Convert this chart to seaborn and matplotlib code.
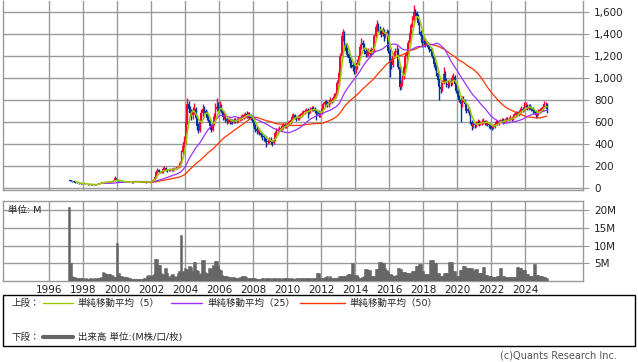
import numpy as np
import pandas as pd
import matplotlib
matplotlib.use("Agg")
import matplotlib.pyplot as plt
import seaborn as sns
from matplotlib.patches import Rectangle
from matplotlib.lines import Line2D

# monthly data, 1997-03 .. 2025-04
first_month = "1997-03-01"
first_open = 70

closes = [
    68, 66, 62, 58, 50, 45, 44, 42, 40, 38,  # 1997
    36, 38, 35, 33, 34, 32, 30, 30, 31, 33, 40, 46,  # 1998
    50, 55, 52, 54, 56, 58, 55, 60, 62, 70, 90, 72,  # 1999
    65, 62, 60, 58, 56, 55, 58, 57, 55, 54, 52, 55,  # 2000
    56, 55, 54, 55, 57, 58, 56, 55, 53, 55, 58, 62,  # 2001
    68, 75, 100, 150, 165, 150, 140, 145, 170, 180, 165, 160,  # 2002
    165, 170, 160, 175, 185, 180, 190, 200, 230, 330, 380, 420,  # 2003
    600, 760, 720, 680, 660, 700, 720, 640, 560, 520, 600, 680,  # 2004
    720, 700, 680, 640, 620, 560, 530, 580, 650, 720, 740, 730,  # 2005
    740, 700, 650, 660, 630, 610, 620, 600, 610, 600, 620, 610,  # 2006
    620, 625, 630, 640, 650, 660, 670, 660, 670, 650, 640, 630,  # 2007
    560, 540, 520, 530, 500, 480, 470, 460, 450, 420, 430, 440,  # 2008
    420, 410, 440, 500, 520, 530, 540, 545, 560, 570, 560, 575,  # 2009
    590, 600, 620, 650, 660, 640, 630, 640, 650, 660, 680, 690,  # 2010
    700, 710, 690, 700, 720, 730, 720, 700, 680, 690, 670, 680,  # 2011
    720, 760, 780, 770, 760, 780, 800, 790, 820, 830, 860, 950,  # 2012
    1050, 1200, 1380, 1420, 1300, 1250, 1220, 1180, 1140, 1120, 1100, 1090,  # 2013
    1110, 1140, 1200, 1280, 1320, 1300, 1250, 1220, 1230, 1240, 1220, 1250,  # 2014
    1260, 1380, 1460, 1480, 1440, 1420, 1400, 1430, 1380, 1400, 1420, 1250,  # 2015
    1140, 1120, 1200, 1220, 1240, 1250, 1100, 920, 950, 1010, 1100, 1200,  # 2016
    1230, 1320, 1410, 1480, 1530, 1600, 1590, 1560, 1500, 1420, 1380, 1320,  # 2017
    1340, 1300, 1320, 1280, 1260, 1250, 1200, 1130, 1100, 1050, 980, 920,  # 2018
    900, 960, 1040, 980, 950, 940, 970, 960, 1000, 1010, 950, 880,  # 2019
    830, 800, 760, 820, 800, 760, 700, 720, 680, 600, 560, 580,  # 2020
    570, 590, 600, 580, 590, 600, 610, 590, 600, 580, 570, 560,  # 2021
    550, 560, 580, 600, 590, 600, 610, 620, 600, 610, 630, 620,  # 2022
    630, 640, 620, 650, 660, 680, 670, 690, 700, 720, 710, 740,  # 2023
    750, 720, 740, 730, 720, 700, 690, 660, 680, 700, 710, 720,  # 2024
    740, 760, 760, 720,  # 2025
]

highs = [
    74, 71, 68, 64, 60, 52, 48, 46, 44, 42,
    40, 41, 39, 37, 36, 36, 34, 32, 33, 36, 43, 50,
    53, 59, 58, 57, 59, 62, 61, 63, 66, 75, 110, 92,
    75, 68, 65, 62, 60, 58, 61, 60, 59, 57, 56, 58,
    59, 58, 57, 57, 60, 61, 60, 58, 57, 58, 61, 66,
    72, 80, 110, 165, 180, 172, 158, 160, 190, 200, 188, 175,
    175, 180, 178, 182, 195, 192, 198, 215, 250, 350, 420, 470,
    640, 818, 790, 750, 720, 740, 770, 740, 660, 590, 630, 720,
    760, 750, 720, 700, 670, 640, 580, 600, 680, 770, 818, 780,
    790, 760, 710, 690, 680, 650, 640, 640, 630, 630, 640, 640,
    640, 645, 650, 660, 670, 680, 690, 700, 690, 690, 670, 660,
    650, 580, 560, 550, 550, 520, 500, 490, 480, 470, 450, 460,
    460, 440, 460, 520, 545, 550, 560, 565, 580, 590, 590, 595,
    610, 620, 640, 670, 680, 675, 655, 660, 670, 680, 700, 710,
    720, 730, 730, 715, 740, 750, 750, 740, 715, 710, 705, 700,
    740, 780, 800, 800, 790, 800, 830, 820, 840, 860, 890, 980,
    1080, 1230, 1400, 1445, 1430, 1320, 1280, 1250, 1200, 1170, 1150, 1130,
    1140, 1170, 1230, 1310, 1360, 1350, 1320, 1270, 1260, 1270, 1260, 1280,
    1290, 1400, 1490, 1527, 1500, 1470, 1450, 1460, 1450, 1420, 1450, 1440,
    1270, 1180, 1230, 1250, 1270, 1300, 1270, 1120, 980, 1030, 1120, 1230,
    1260, 1350, 1440, 1500, 1560, 1663, 1630, 1610, 1580, 1520, 1440, 1400,
    1380, 1360, 1340, 1330, 1300, 1280, 1270, 1210, 1150, 1120, 1070, 1000,
    940, 980, 1100, 1060, 1000, 970, 990, 990, 1030, 1050, 1030, 960,
    900, 850, 820, 840, 840, 810, 770, 740, 740, 690, 620, 600,
    600, 610, 630, 615, 610, 630, 640, 620, 620, 610, 595, 585,
    575, 580, 600, 620, 615, 620, 630, 640, 635, 630, 650, 645,
    645, 660, 650, 670, 680, 700, 700, 710, 725, 745, 735, 785,
    780, 765, 760, 760, 750, 740, 720, 710, 700, 720, 730, 740,
    760, 790, 785, 770,
]

lows = [
    64, 62, 58, 54, 47, 42, 41, 39, 37, 35,
    34, 34, 33, 31, 31, 30, 28, 28, 28, 30, 32, 38,
    44, 48, 50, 50, 52, 54, 53, 53, 57, 60, 68, 70,
    62, 59, 57, 55, 53, 52, 53, 54, 52, 51, 49, 50,
    52, 52, 51, 51, 53, 55, 53, 52, 50, 51, 53, 56,
    58, 64, 72, 95, 140, 145, 132, 134, 140, 160, 158, 150,
    152, 158, 152, 155, 168, 170, 175, 182, 195, 225, 310, 360,
    400, 580, 690, 650, 620, 630, 670, 620, 530, 500, 510, 590,
    650, 680, 660, 620, 600, 540, 510, 520, 570, 640, 700, 700,
    700, 680, 620, 630, 600, 580, 590, 580, 580, 580, 590, 590,
    590, 600, 605, 615, 620, 630, 640, 640, 640, 630, 620, 600,
    540, 510, 490, 500, 480, 460, 440, 430, 420, 373, 400, 410,
    400, 385, 400, 430, 480, 500, 510, 520, 530, 540, 545, 545,
    560, 575, 585, 605, 630, 625, 610, 615, 620, 635, 645, 665,
    675, 685, 640, 670, 685, 700, 700, 680, 620, 660, 650, 650,
    670, 710, 740, 750, 740, 740, 760, 770, 780, 800, 820, 850,
    930, 1030, 1180, 1340, 1280, 1220, 1190, 1150, 1100, 1090, 1060, 1040,
    1050, 1080, 1120, 1180, 1260, 1270, 1220, 1190, 1190, 1200, 1190, 1200,
    1220, 1240, 1360, 1430, 1420, 1400, 1370, 1380, 1340, 1360, 1380, 1230,
    1009, 1080, 1100, 1180, 1200, 1210, 1080, 890, 900, 930, 990, 1080,
    1170, 1210, 1300, 1390, 1460, 1510, 1560, 1530, 1480, 1400, 1350, 1290,
    1290, 1280, 1280, 1260, 1240, 1230, 1180, 1100, 1070, 1020, 950, 800,
    860, 880, 950, 960, 920, 910, 920, 930, 940, 980, 930, 860,
    810, 780, 600, 740, 780, 740, 680, 690, 660, 580, 530, 545,
    550, 555, 575, 560, 570, 575, 585, 570, 575, 560, 550, 540,
    530, 535, 550, 570, 575, 575, 590, 600, 585, 590, 600, 605,
    605, 615, 605, 615, 635, 645, 655, 655, 675, 685, 690, 700,
    715, 705, 705, 715, 700, 680, 670, 640, 645, 665, 685, 690,
    700, 725, 735, 680,
]

# volume in millions
volumes = [
    20.7, 4.6, 1.0, 0.8, 0.7, 0.6, 0.5, 0.5, 0.4, 0.5,
    0.4, 0.3, 0.4, 0.3, 0.3, 0.4, 0.3, 0.3, 0.4, 0.3, 0.5, 0.6,
    0.5, 0.8, 2.3, 2.0, 1.5, 1.7, 1.6, 1.7, 1.2, 0.9, 0.8, 0.8,
    10.5, 2.0, 1.0, 0.9, 0.8, 0.7, 0.8, 0.7, 0.5, 0.4, 0.3, 0.3,
    0.2, 0.2, 0.2, 0.3, 0.2, 0.2, 0.3, 0.5, 0.6, 0.9, 1.3, 1.1,
    0.9, 1.3, 1.6, 6.0, 5.8, 4.2, 4.2, 2.0, 1.5, 1.2, 3.4, 2.0,
    1.0, 0.8, 1.3, 1.5, 0.9, 0.8, 1.0, 1.8, 2.5, 12.6, 2.5, 2.3,
    3.2, 3.0, 2.0, 3.9, 3.5, 2.5, 5.1, 5.0, 2.6, 2.4, 1.5, 2.0,
    5.7, 5.6, 2.3, 2.0, 1.6, 3.2, 3.0, 3.3, 4.1, 5.3, 5.3, 4.0,
    2.9, 2.6, 1.2, 1.1, 1.0, 0.9, 0.8, 0.8, 0.7, 0.6, 0.7, 0.6,
    0.6, 0.5, 0.6, 0.8, 1.0, 1.1, 1.0, 0.8, 0.6, 0.5, 0.5, 0.5,
    0.4, 0.4, 0.3, 0.3, 0.3, 0.3, 0.4, 0.4, 0.3, 0.5, 0.4, 0.3,
    0.4, 0.3, 0.4, 0.4, 0.3, 0.4, 0.3, 0.4, 0.3, 0.4, 0.5, 0.4,
    0.3, 0.4, 0.3, 0.4, 0.3, 0.3, 0.4, 0.3, 0.4, 0.3, 0.4, 0.4,
    0.3, 0.4, 0.5, 0.4, 0.3, 0.4, 0.3, 0.4, 0.5, 1.9, 1.8, 0.6,
    0.6, 0.5, 0.6, 0.8, 0.9, 0.6, 0.9, 0.6, 0.5, 0.5, 0.5, 0.6,
    0.6, 0.9, 1.0, 1.1, 1.0, 1.0, 1.2, 1.6, 1.6, 1.5, 4.8, 1.3,
    1.3, 1.2, 0.8, 0.6, 0.6, 0.7, 1.0, 2.9, 2.9, 2.6, 2.6, 1.0,
    0.9, 0.9, 0.9, 3.1, 3.0, 5.0, 5.0, 4.8, 4.8, 3.2, 2.8, 2.3,
    1.5, 1.5, 1.2, 1.0, 1.0, 1.2, 3.4, 3.4, 3.0, 2.2, 2.2, 2.2,
    2.0, 2.0, 2.0, 2.0, 2.5, 2.5, 2.5, 3.9, 3.9, 4.4, 4.4, 2.5,
    2.5, 1.5, 1.5, 1.5, 1.5, 5.7, 5.7, 5.7, 4.8, 4.8, 2.0, 2.0,
    1.0, 1.0, 1.0, 2.0, 2.0, 2.0, 5.1, 5.1, 5.1, 2.5, 2.5, 1.0,
    1.0, 1.0, 2.7, 2.7, 3.9, 3.9, 3.2, 3.2, 3.4, 3.4, 3.4, 2.5,
    2.5, 2.9, 2.9, 2.0, 2.0, 2.0, 3.6, 3.6, 1.3, 1.3, 0.9, 0.9,
    0.9, 0.8, 0.8, 0.8, 1.0, 1.0, 3.4, 3.4, 1.0, 1.0, 0.8, 0.8,
    0.8, 0.8, 0.8, 0.8, 0.8, 0.8, 3.6, 3.6, 3.4, 3.4, 2.6, 2.6,
    2.6, 1.7, 1.7, 0.9, 0.9, 0.9, 4.5, 4.5, 1.3, 1.3, 0.9, 0.9,
    0.9, 0.8, 0.8, 0.6,
]

year_ticks = list(range(1996, 2025, 2))
price_ticks = [0, 200, 400, 600, 800, 1000, 1200, 1400, 1600]
vol_ticks = [5, 10, 15, 20]
vol_labels = ["5M", "10M", "15M", "20M"]

dates = pd.date_range(first_month, periods=len(closes), freq="MS")
df = pd.DataFrame({
    "t": dates.year + (dates.month - 0.5) / 12,
    "close": closes, "high": highs, "low": lows, "volume": volumes,
})
df["open"] = df["close"].shift(1).fillna(first_open)
df["ma5"] = df["close"].rolling(5).mean()
df["ma25"] = df["close"].rolling(25).mean()
df["ma50"] = df["close"].rolling(50).mean()
up = df["close"] >= df["open"]

sns.set_style("white")
plt.rcParams["font.family"] = ["DejaVu Sans", "Noto Sans CJK JP"]

W, H = 638, 362
fig = plt.figure(figsize=(W / 100, H / 100), dpi=100)

def fx(px):
    return px / W

def fy(py):
    return 1 - py / H

grid_c = "#999999"
ax = fig.add_axes([fx(3), fy(190), fx(580), 189 / H])
axv = fig.add_axes([fx(3), fy(280.8), fx(580), 79.5 / H])

# candles
col = np.where(up, "#ff0033", "#003399")
ax.vlines(df["t"], df["low"], df["high"], colors=col, lw=1.0, zorder=3)
body_lo = np.minimum(df["open"], df["close"])
body_h = np.maximum(np.abs(df["close"] - df["open"]), 3)
ax.bar(df["t"], body_h, bottom=body_lo, width=0.1, color=col, lw=0, zorder=3)

# moving averages
sns.lineplot(data=df, x="t", y="ma50", color="#ff3300", lw=0.9, ax=ax, estimator=None, zorder=4)
sns.lineplot(data=df, x="t", y="ma25", color="#9933ff", lw=0.9, ax=ax, estimator=None, zorder=4)
sns.lineplot(data=df, x="t", y="ma5", color="#99cc00", lw=1.1, ax=ax, estimator=None, zorder=5)

axv.bar(df["t"], df["volume"], width=1 / 12, color="#666666", ec="#666666", lw=1.1, zorder=3)

x0 = 1996 + (3 - 49) / 17
x1 = 1996 + (583 - 49) / 17
for a in (ax, axv):
    a.set_xlim(x0, x1)
    a.set_xticks(year_ticks)
    a.grid(True, color=grid_c, lw=1)
    a.set_axisbelow(True)
    a.set_xlabel("")
    a.set_ylabel("")
    for s in a.spines.values():
        s.set_color(grid_c)
        s.set_linewidth(1)
    a.yaxis.tick_right()
    a.tick_params(axis="y", length=4, color=grid_c, labelsize=7.5, pad=4, labelcolor="#222222")
    a.tick_params(axis="x", length=0, labelsize=7.5, labelcolor="#222222", pad=3)

ax.set_ylim((188 - 190) / 0.11, (188 - 1) / 0.11)
ax.set_yticks(price_ticks)
ax.set_yticklabels([f"{v:,}" for v in price_ticks])
ax.set_xticklabels([])
ax.spines["top"].set_visible(False)

axv.set_ylim(-0.05, 22.6)
axv.set_yticks(vol_ticks)
axv.set_yticklabels(vol_labels)
axv.set_xticklabels([str(y) for y in year_ticks])

fig.text(fx(8), fy(210), "単位: M", fontsize=6.8, va="center", ha="left", color="#222222")

# legend box
fig.add_artist(Rectangle((fx(3), fy(346)), fx(632), 51 / H, transform=fig.transFigure,
                         fill=False, ec="black", lw=1))
ly1, ly2 = 303, 337
fig.text(fx(12), fy(ly1), "上段：", fontsize=6.8, va="center")
fig.text(fx(12), fy(ly2), "下段：", fontsize=6.8, va="center")
legend_items = [
    (43, 73, "#99cc00", 78, "単純移動平均（5）"),
    (171, 202, "#9933ff", 207, "単純移動平均（25）"),
    (300, 345, "#ff3300", 350, "単純移動平均（50）"),
]
for xa, xb, c, xt, label in legend_items:
    fig.add_artist(Line2D([fx(xa), fx(xb)], [fy(ly1), fy(ly1)], color=c, lw=1,
                          transform=fig.transFigure))
    fig.text(fx(xt), fy(ly1), label, fontsize=6.8, va="center")
fig.add_artist(Line2D([fx(43), fx(73)], [fy(ly2), fy(ly2)], color="#666666", lw=3,
                      transform=fig.transFigure))
fig.text(fx(78), fy(ly2), "出来高 単位:(M株/口/枚)", fontsize=6.8, va="center")

fig.text(fx(617), fy(356), "(c)Quants Research Inc.", fontsize=7, ha="right", va="center",
         color="#555555")

fig.savefig("out.png", dpi=100)
